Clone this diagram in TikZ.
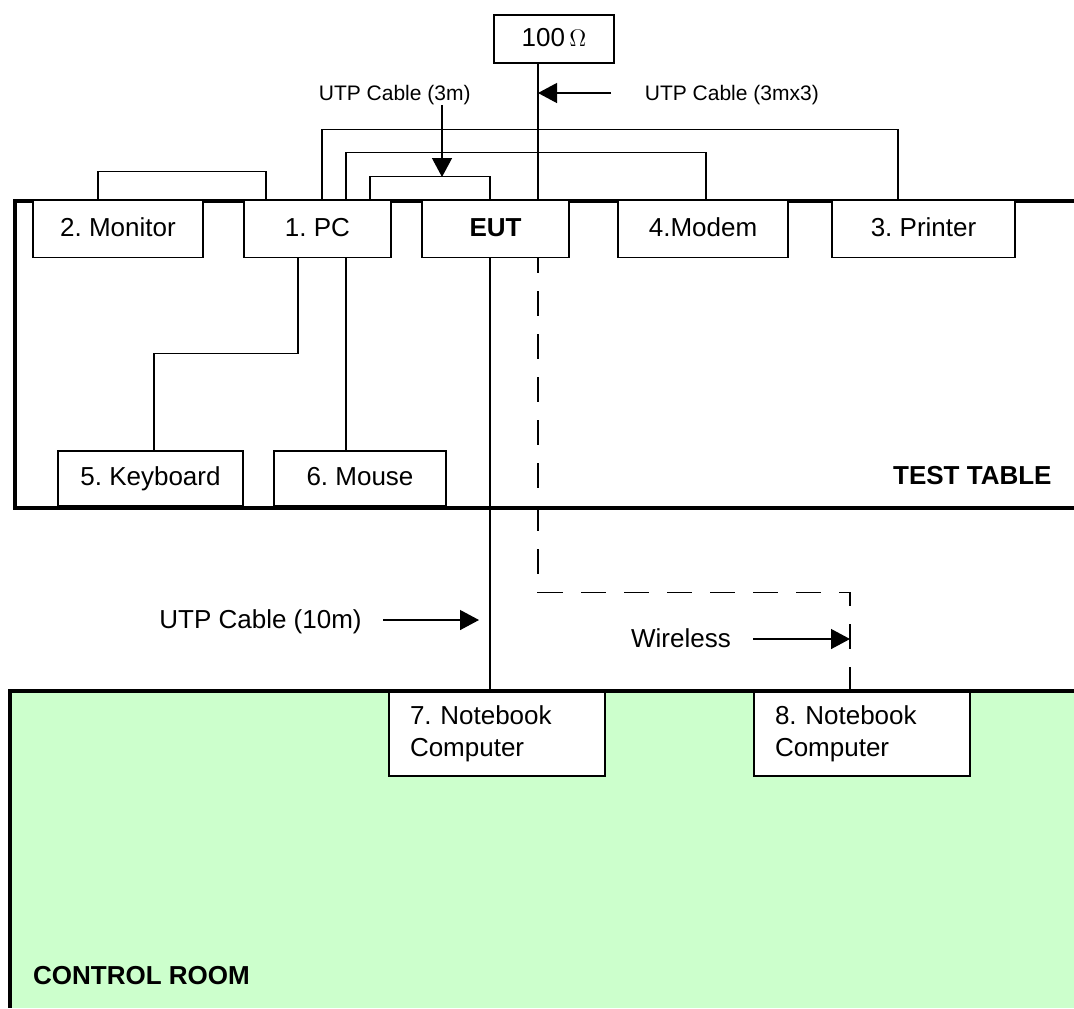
\documentclass[tikz,border=0pt]{standalone}
\usepackage{fontspec}
\setmainfont{Liberation Sans}
\frenchspacing
\usetikzlibrary{arrows.meta}
\definecolor{roomgreen}{HTML}{CCFFCC}
\tikzset{
	box/.style={draw, fill=white, line width=0.7pt, minimum height=28.5pt, inner sep=0pt,
		font=\fontsize{13}{16}\selectfont, text height=9.5pt, text depth=2.5pt},
	nbbox/.style={draw, fill=white, line width=0.7pt, minimum width=108pt, minimum height=42pt,
		inner xsep=10.5pt, text width=87pt, align=left, font=\fontsize{13}{16}\selectfont},
	lbl/.style={inner sep=0pt, font=\fontsize{13}{16}\selectfont},
	small/.style={inner sep=0pt, font=\fontsize{10.5}{12}\selectfont},
	title/.style={inner sep=0pt, font=\fontsize{13}{16}\selectfont\bfseries},
	wire/.style={line width=0.65pt},
	wall/.style={line width=2pt},
	arr/.style={line width=0.65pt, -{Triangle[length=9.5pt,width=10pt]}},
	radio/.style={line width=0.65pt, dash pattern=on 12.5pt off 9pt, dash phase=5pt},
}
\begin{document}
\begin{tikzpicture}[x=0.5pt, y=-0.5pt]
		\useasboundingbox (0,0) rectangle (1074,1008);
		
		% rooms
		\fill[roomgreen] (10,691) rectangle (1074,1008);
		\draw[wall] (1074,691) -- (10,691) -- (10,1008);
		\draw[wall] (1074,201) -- (15,201) -- (15,508) -- (1074,508);
		
		\node[box, minimum width=85pt] (monitor) at (118,229) {2. Monitor};
		\node[box, minimum width=73.5pt] (pc) at (317.5,229) {1. PC};
		\node[box, minimum width=73.5pt] (eut) at (495.5,229) {\bfseries EUT};
		\node[box, minimum width=85pt] (modem) at (703,229) {4.Modem};
		\node[box, minimum width=91.5pt] (printer) at (923.5,229) {3. Printer};
		
		\node[box, minimum width=92.5pt, minimum height=27.5pt] (keyboard) at (150.5,478.5) {5. Keyboard};
		\node[box, minimum width=86pt, minimum height=27.5pt] (mouse) at (360,478.5) {6. Mouse};
		
		\node[box, minimum width=60pt, minimum height=24pt] (res) at (554,39) {100\,$\Omega$};
		
		\node[nbbox] (nb7) at (497,734) {7. Notebook\\Computer};
		\node[nbbox] (nb8) at (862,734) {8. Notebook\\Computer};
		
		% cables
		\draw[wire] ([xshift=-10pt]monitor.north) -- ++(0,-28) -| ([xshift=-25.75pt]pc.north);
		\draw[wire] ([xshift=2.25pt]pc.north) -- ++(0,-70) -| ([xshift=-12.75pt]printer.north);
		\draw[wire] ([xshift=14.25pt]pc.north) -- ++(0,-47) -| ([xshift=1.5pt]modem.north);
		\draw[wire] ([xshift=26.25pt]pc.north) -- ++(0,-23) -| ([xshift=-2.75pt]eut.north);
		\draw[wire] ([xshift=-8pt]res.south) -- ([xshift=21.25pt]eut.north);
		\draw[wire] ([xshift=-9.75pt]pc.south) -- ++(0,95) -| ([xshift=1.75pt]keyboard.north);
		\draw[wire] ([xshift=14.25pt]pc.south) -- ([xshift=-7pt]mouse.north);
		\draw[wire] ([xshift=-2.75pt]eut.south) -- ([xshift=-3.5pt]nb7.north);
		\draw[radio] ([xshift=21.25pt]eut.south) -- ++(0,334) -| ([xshift=-6pt]nb8.north);
		
		% labels
		\node[small, anchor=base] (l3m) at (394.7,100) {UTP Cable (3m)};
		\node[small, anchor=base west] (l3mx3) at (644.5,100) {UTP Cable (3mx3)};
		\node[lbl, anchor=base west] (l10m) at (159,628) {UTP Cable (10m)};
		\node[lbl, anchor=base west] (lwl) at (630.7,647.7) {Wireless};
		\node[title, anchor=base west] (ltable) at (892.7,484) {TEST TABLE};
		\node[title, anchor=base west] (lroom) at (32.7,984) {CONTROL ROOM};
		
		\coordinate (c3m) at (442,177);
		\coordinate (t3mx3) at (611,93);
		\coordinate (c3mx3) at (538,93);
		\coordinate (t10m) at (383,620);
		\coordinate (c10m) at (479,620);
		\coordinate (twl) at (753,639);
		\coordinate (cwl) at (850,639);
		
		\draw[arr] (l3m.south -| c3m) -- (c3m);
		\draw[arr] (t3mx3) -- (c3mx3);
		\draw[arr] (t10m) -- (c10m);
		\draw[arr] (twl) -- (cwl);
	\end{tikzpicture}
\end{document}
